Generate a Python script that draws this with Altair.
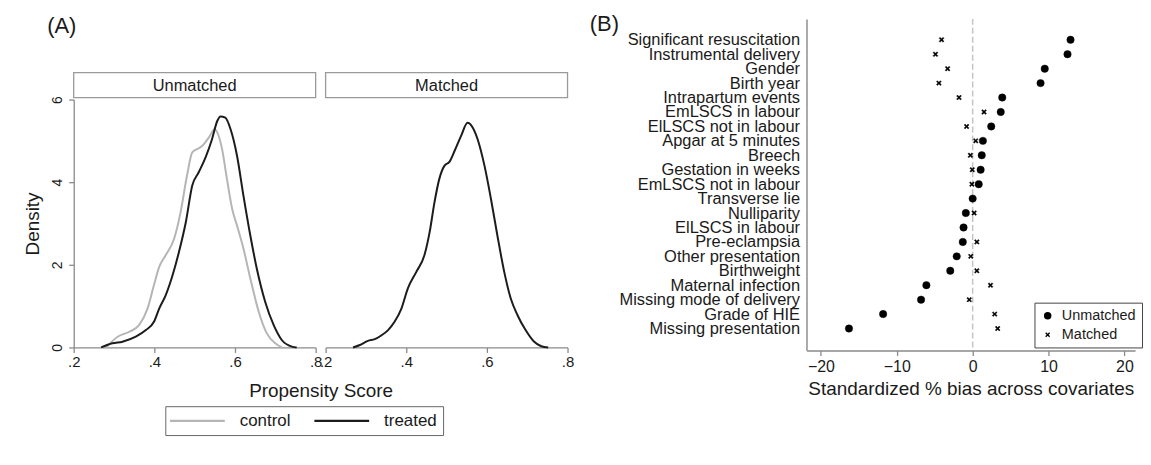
import json
import altair as alt
import pandas as pd

FONT = "Liberation Sans"
TXT = "#1a1a1a"
AX = "#8a8a8a"

# ---------------- Panel A: propensity score densities ----------------
trt_un_x = [0.268, 0.296, 0.321, 0.354, 0.379, 0.399, 0.412, 0.428, 0.444, 0.461, 0.478, 0.494,
            0.510, 0.527, 0.543, 0.556, 0.564, 0.576, 0.589, 0.605, 0.621, 0.638, 0.654, 0.675,
            0.696, 0.716, 0.741, 0.753]
trt_un_y = [0.00, 0.10, 0.14, 0.26, 0.42, 0.62, 0.94, 1.26, 1.71, 2.31, 3.03, 3.92,
            4.24, 4.60, 5.04, 5.48, 5.59, 5.56, 5.28, 4.64, 3.67, 2.71, 1.91, 1.10,
            0.54, 0.18, 0.02, 0.00]

ctrl_un_x = [0.280, 0.309, 0.338, 0.362, 0.383, 0.399, 0.412, 0.428, 0.449, 0.465, 0.481, 0.494,
             0.506, 0.519, 0.535, 0.550, 0.558, 0.568, 0.580, 0.593, 0.605, 0.621, 0.638, 0.659,
             0.679, 0.700, 0.716]
ctrl_un_y = [0.00, 0.26, 0.38, 0.54, 0.94, 1.51, 1.95, 2.23, 2.63, 3.27, 4.16, 4.72,
             4.80, 4.88, 5.08, 5.28, 5.16, 4.80, 4.08, 3.35, 2.95, 2.39, 1.67, 0.86,
             0.34, 0.10, 0.00]

trt_m_x = [0.268, 0.285, 0.305, 0.322, 0.338, 0.355, 0.371, 0.388, 0.404, 0.425, 0.445, 0.458,
           0.470, 0.482, 0.495, 0.507, 0.520, 0.536, 0.552, 0.565, 0.577, 0.594, 0.610, 0.626,
           0.643, 0.659, 0.676, 0.696, 0.716, 0.735, 0.752]
trt_m_y = [0.00, 0.06, 0.16, 0.20, 0.29, 0.42, 0.62, 0.94, 1.43, 1.83, 2.23, 2.79,
           3.51, 4.08, 4.40, 4.49, 4.76, 5.12, 5.44, 5.32, 5.04, 4.40, 3.60, 2.71,
           1.83, 1.19, 0.78, 0.42, 0.15, 0.03, 0.00]

groups = ["control", "treated"]
facets = ["Unmatched", "Matched"]

df_un = pd.DataFrame({
    "ps": ctrl_un_x + trt_un_x,
    "density": ctrl_un_y + trt_un_y,
    "group": ["control"] * len(ctrl_un_x) + ["treated"] * len(trt_un_x),
})
df_m = pd.DataFrame({"ps": trt_m_x, "density": trt_m_y, "group": ["treated"] * len(trt_m_x)})

PW, PH = 243, 249
HH = 25
xticks = [0.2, 0.4, 0.6, 0.8]
lab_expr = "replace(format(datum.value, '.1f'), '0.', '.')"

color_scale = alt.Scale(domain=groups, range=["#b5b5b5", "#1c1c1c"])
legendA = alt.Legend(
    title=None, orient="none", legendX=92, legendY=335, direction="horizontal",
    symbolType="M-4,0L4,0", symbolSize=189, symbolStrokeWidth=2.4, symbolOffset=17.75,
    labelFontSize=17, labelFont=FONT, labelColor=TXT, labelOffset=34,
    columnPadding=18, padding=6, strokeColor="#666", cornerRadius=0,
)


def x_axis(with_title):
    kw = dict(values=xticks, labelExpr=lab_expr, labelFontSize=15, labelFont=FONT,
              labelColor=TXT, labelPadding=2, tickSize=5, tickColor=AX, domainColor=AX,
              domainWidth=1.3, tickWidth=1.3, grid=False, labelFlush=False)
    if with_title:
        kw.update(title="Propensity Score", titleX=248, titleY=49, titleAlign="center",
                  titleBaseline="alphabetic", titleFontSize=19, titleFont=FONT,
                  titleFontWeight="normal", titleColor=TXT)
    else:
        kw.update(title=None)
    return alt.Axis(**kw)


y_axis_A = alt.Axis(values=[0, 2, 4, 6], format="d", title="Density",
                    titleX=-41, titleY=PH / 2, titleAngle=270, titleAlign="center",
                    titleBaseline="middle", titleFontSize=19, titleFont=FONT,
                    titleFontWeight="normal", titleColor=TXT,
                    labelAngle=270, labelAlign="center", labelBaseline="bottom",
                    labelPadding=4, labelFontSize=14, labelFont=FONT, labelColor=TXT,
                    tickSize=5, tickColor=AX, domainColor=AX, domainWidth=1.3,
                    tickWidth=1.3, grid=False)

xs = alt.Scale(domain=[0.2, 0.8], nice=False, zero=False)
ys = alt.Scale(domain=[0, 6], nice=False)

pU = alt.Chart(df_un).mark_line(strokeWidth=2, interpolate="monotone").encode(
    x=alt.X("ps:Q", scale=xs, axis=x_axis(True)),
    y=alt.Y("density:Q", scale=ys, axis=y_axis_A),
    color=alt.Color("group:N", scale=color_scale, legend=legendA),
).properties(width=PW, height=PH)

pM = alt.Chart(df_m).mark_line(strokeWidth=2, interpolate="monotone").encode(
    x=alt.X("ps:Q", scale=xs, axis=x_axis(False)),
    y=alt.Y("density:Q", scale=ys, axis=None),
    color=alt.Color("group:N", scale=color_scale, legend=legendA),
).properties(width=PW, height=PH)


def header(text, tag=None):
    d = pd.DataFrame({"label": [text]})
    box = alt.Chart(d).mark_rect(fillOpacity=0, stroke="#9a9a9a", strokeWidth=1.3).encode(
        x=alt.value(0), x2=alt.value(PW), y=alt.value(0), y2=alt.value(HH))
    txt = alt.Chart(d).mark_text(fontSize=16.5, font=FONT, color=TXT, baseline="middle",
                                 align="center").encode(
        text="label:N", x=alt.value(PW / 2), y=alt.value(HH / 2 + 0.5))
    layers = [box, txt]
    if tag:
        layers.append(alt.Chart(pd.DataFrame({"t": [tag]})).mark_text(
            fontSize=22, font=FONT, color=TXT, baseline="middle", align="center").encode(
            text="t:N", x=alt.value(-12), y=alt.value(-47)))
    return alt.layer(*layers).properties(width=PW, height=HH)


hU = header(facets[0], "(A)")
hM = header(facets[1])


def spacer(w, h):
    return alt.Chart(pd.DataFrame({"t": [""]})).mark_text().encode(
        text="t:N").properties(width=w, height=h)


# ---------------- Panel B: standardized bias ----------------
covariates = ["Significant resuscitation", "Instrumental delivery", "Gender", "Birth year",
              "Intrapartum events", "EmLSCS in labour", "ElLSCS not in labour",
              "Apgar at 5 minutes", "Breech", "Gestation in weeks", "EmLSCS not in labour",
              "Transverse lie", "Nulliparity", "ElLSCS in labour", "Pre-eclampsia",
              "Other presentation", "Birthweight", "Maternal infection",
              "Missing mode of delivery", "Grade of HIE", "Missing presentation"]
bias_unmatched = [12.9, 12.5, 9.5, 8.95, 3.9, 3.7, 2.45, 1.35, 1.2, 1.05, 0.8,
                  0.0, -0.9, -1.2, -1.3, -2.1, -2.95, -6.1, -6.8, -11.8, -16.3]
bias_matched = [-4.1, -4.9, -3.3, -4.45, -1.8, 1.5, -0.8, 0.4, -0.3, -0.05, -0.1,
                0.0, 0.2, -1.1, 0.55, -0.25, 0.55, 2.35, -0.45, 2.9, 3.3]
samples = ["Unmatched", "Matched"]

n_cov = len(covariates)
dfB = pd.DataFrame({
    "covariate": covariates * 2,
    "idx": list(range(n_cov)) * 2,
    "bias": bias_unmatched + bias_matched,
    "sample": ["Unmatched"] * n_cov + ["Matched"] * n_cov,
})

# filled "x" outline (a = half extent, d = arm thickness offset)
_a, _d = 0.66, 0.26
XPATH = ("M{m_a},{m_ad}L{m_ad},{m_a}L0,{m_d}L{ad},{m_a}L{a},{m_ad}L{d},0L{a},{ad}L{ad},{a}"
         "L0,{d}L{m_ad},{a}L{m_a},{ad}L{m_d},0Z").format(
    a=_a, d=_d, m_a=-_a, m_d=-_d, ad=round(_a - _d, 3), m_ad=round(-_a + _d, 3))
BW, BH = 330, 252
B_TOP = -81

legendB = alt.Legend(
    title=None, orient="none", legendX=965, legendY=231, direction="vertical",
    symbolSize=56, symbolFillColor="black", symbolStrokeColor="black",
    symbolStrokeWidth=0.4, symbolOpacity=1,
    labelFontSize=14.5, labelFont=FONT, labelColor=TXT, labelOffset=7,
    rowPadding=4, padding=6, strokeColor="#444", cornerRadius=0,
)

xB = alt.X("bias:Q", scale=alt.Scale(domain=[-21.9, 21.4], nice=False, zero=False),
           axis=alt.Axis(values=[-20, -10, 0, 10, 20], title="Standardized % bias across covariates",
                         titleFontSize=19, titleFont=FONT, titleFontWeight="normal",
                         titleColor=TXT, titleY=44, titleBaseline="alphabetic",
                         labelFontSize=16, labelFont=FONT, labelColor=TXT, labelPadding=3,
                         tickSize=5, tickColor=AX, domainColor=AX, domainWidth=1.5,
                         tickWidth=1.3, grid=False, labelFlush=False))

zero_rule = alt.Chart(pd.DataFrame({"bias": [0]})).mark_rule(
    color="#c4c4c4", strokeDash=[6, 3], strokeWidth=1.5
).encode(x=xB, y=alt.value(B_TOP), y2=alt.value(BH))

cov_expr = json.dumps(covariates) + "[round(datum.value)]"

points = alt.Chart(dfB).mark_point(
    filled=True, fill="black", stroke="black", strokeWidth=0.4, size=56, opacity=1
).encode(
    x=xB,
    y=alt.Y("idx:Q",
            scale=alt.Scale(domain=[-1.448, n_cov - 1 + 1.517], nice=False, zero=False,
                            range=[B_TOP, BH]),
            axis=alt.Axis(title=None, ticks=False, values=list(range(n_cov)),
                          labelExpr=cov_expr, labelFontSize=16.5, labelFont=FONT,
                          labelColor=TXT, labelPadding=7, labelOverlap=False, labelBound=False,
                          labelFlush=False, labelLimit=400, domainColor="#aaaaaa",
                          domainWidth=2, grid=False)),
    shape=alt.Shape("sample:N", scale=alt.Scale(domain=samples, range=["circle", XPATH]),
                    legend=legendB),
    tooltip=["covariate:N", "sample:N", "bias:Q"],
)

labB = alt.Chart(pd.DataFrame({"t": ["(B)"]})).mark_text(
    fontSize=22, font=FONT, color=TXT, align="center", baseline="middle"
).encode(text="t:N", x=alt.value(-203), y=alt.value(B_TOP + 5))

B = alt.layer(zero_rule, points, labB).properties(width=BW, height=BH)

GAP = 220
chart = alt.concat(
    hU, hM, spacer(GAP, 10), spacer(BW, 10),
    pU, pM, spacer(GAP, 10), B,
    columns=4, spacing={"row": 2, "column": 10}, bounds="flush",
).properties(
    padding={"left": 16, "top": 4, "right": 0, "bottom": 0}, background="white"
).configure_view(stroke="transparent", strokeWidth=0)

chart.save("out.html", embed_options={"renderer": "svg", "actions": False})
